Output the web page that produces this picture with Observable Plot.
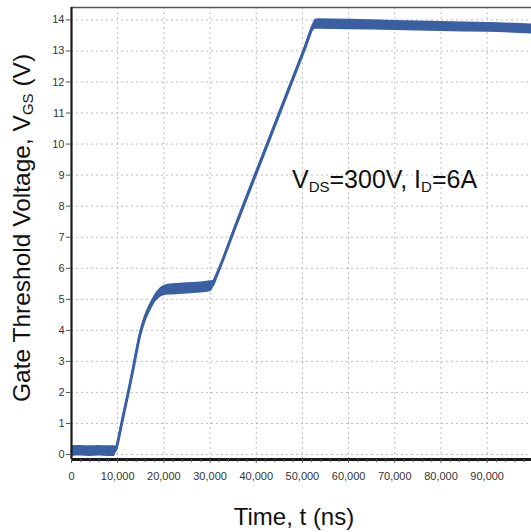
<!DOCTYPE html>
<html><head><meta charset="utf-8">
<script src="https://cdn.jsdelivr.net/npm/d3@7"></script>
<script src="https://cdn.jsdelivr.net/npm/@observablehq/plot@0.6"></script>
<style>html,body{margin:0;padding:0;background:#fff}#chart svg{display:block}</style>
</head><body><div id="chart"></div>
<script>
// Gate voltage waveform (time in ns, volts)
const timeNs = [0, 2000, 4000, 6000, 8000, 9300, 9600, 10000, 11000, 12300, 13400, 14200, 14900, 15600, 16400, 17400, 18200, 18900, 19600, 20500, 22000, 25000, 28000, 30000, 30600, 31300, 36000, 41500, 47000, 50500, 52300, 52800, 53500, 60000, 70000, 80000, 90000, 99600];
const vgs    = [0.11, 0.12, 0.11, 0.12, 0.11, 0.11, 0.15, 0.38, 1.1, 2.0, 2.8, 3.42, 3.9, 4.25, 4.55, 4.85, 5.05, 5.17, 5.25, 5.3, 5.32, 5.35, 5.38, 5.42, 5.47, 5.72, 7.54, 9.64, 11.74, 13.08, 13.77, 13.86, 13.87, 13.85, 13.82, 13.79, 13.76, 13.71];
const noiseHalf = [0.17, 0.17, 0.17, 0.17, 0.17, 0.17, 0.12, 0.09, 0.08, 0.08, 0.09, 0.1, 0.11, 0.12, 0.13, 0.13, 0.14, 0.15, 0.16, 0.17, 0.18, 0.18, 0.18, 0.18, 0.14, 0.09, 0.09, 0.09, 0.09, 0.09, 0.12, 0.16, 0.17, 0.17, 0.16, 0.16, 0.16, 0.16];

const xTicks = [0, 10000, 20000, 30000, 40000, 50000, 60000, 70000, 80000, 90000];
const xMinorTicks = [2000, 4000, 6000, 8000, 12000, 14000, 16000, 18000, 22000, 24000, 26000, 28000, 32000, 34000, 36000, 38000, 42000, 44000, 46000, 48000, 52000, 54000, 56000, 58000, 62000, 64000, 66000, 68000, 72000, 74000, 76000, 78000, 82000, 84000, 86000, 88000, 92000, 94000, 96000, 98000];
const yTicks = [0, 1, 2, 3, 4, 5, 6, 7, 8, 9, 10, 11, 12, 13, 14];
const xDomain = [0, 99600];
const yDomain = [-0.16, 14.4];

const annotation = {t: 47850, v: 8.56};

const data = timeNs.map((t, i) => ({t, v: vgs[i], lo: vgs[i] - noiseHalf[i], hi: vgs[i] + noiseHalf[i]}));
const blue = "#3a5fa2";
const font = "'Liberation Sans', Arial, Helvetica, sans-serif";

const plot = Plot.plot({
  width: 531, height: 532,
  marginLeft: 71, marginRight: 0, marginTop: 7, marginBottom: 73,
  style: {fontFamily: font, fontSize: "11px", color: "#333", background: "#fff"},
  x: {domain: xDomain, label: null},
  y: {domain: yDomain, label: null},
  marks: [
    Plot.ruleY(yTicks, {stroke: "#bdbdbd", strokeDasharray: "2,3", strokeWidth: 1}),
    Plot.ruleX(xTicks.slice(1), {stroke: "#bdbdbd", strokeDasharray: "2,3", strokeWidth: 1}),
    Plot.areaY(data, {x: "t", y1: "lo", y2: "hi", fill: blue, curve: "monotone-x"}),
    Plot.line(data, {x: "t", y: "v", stroke: blue, strokeWidth: 2.9, curve: "monotone-x"}),
    Plot.ruleY([yDomain[1]], {stroke: "#555", strokeWidth: 1.5}),
    Plot.ruleX([xDomain[0]], {stroke: "#1a1a1a", strokeWidth: 2.2}),
    Plot.ruleY([yDomain[0]], {stroke: "#1a1a1a", strokeWidth: 2.8}),
    Plot.axisX(xMinorTicks, {tickSize: 3, tickFormat: () => "", label: null, stroke: "#555"}),
    Plot.axisX(xTicks, {tickSize: 4, tickPadding: 9, tickFormat: d3.format(","), label: null, stroke: "#555"}),
    Plot.axisY(yTicks, {tickSize: 5, tickPadding: 2, label: null, stroke: "#555"})
  ]
});
document.getElementById("chart").appendChild(plot);

const svg = d3.select(plot);
const xs = plot.scale("x"), ys = plot.scale("y");

// annotation
const ann = svg.append("text")
  .attr("x", xs.apply(annotation.t)).attr("y", ys.apply(annotation.v))
  .attr("text-anchor", "start")
  .attr("font-family", font).attr("font-size", 25).attr("fill", "#111");
ann.append("tspan").text("V");
ann.append("tspan").attr("font-size", 15).attr("dy", 4).text("DS");
ann.append("tspan").attr("dy", -4).text("=300V, I");
ann.append("tspan").attr("font-size", 15).attr("dy", 4).text("D");
ann.append("tspan").attr("dy", -4).text("=6A");

// x label
svg.append("text")
  .attr("x", 294).attr("y", 525)
  .attr("text-anchor", "middle")
  .attr("font-family", font).attr("font-size", 24).attr("fill", "#111")
  .text("Time, t (ns)");

// y label
const yl = svg.append("text")
  .attr("transform", "translate(30,228) rotate(-90)")
  .attr("text-anchor", "middle")
  .attr("font-family", font).attr("font-size", 24.5).attr("fill", "#111");
yl.append("tspan").text("Gate Threshold Voltage, V");
yl.append("tspan").attr("font-size", 15).attr("dy", 3).text("GS");
yl.append("tspan").attr("dy", -3).text(" (V)");
</script>
</body></html>
